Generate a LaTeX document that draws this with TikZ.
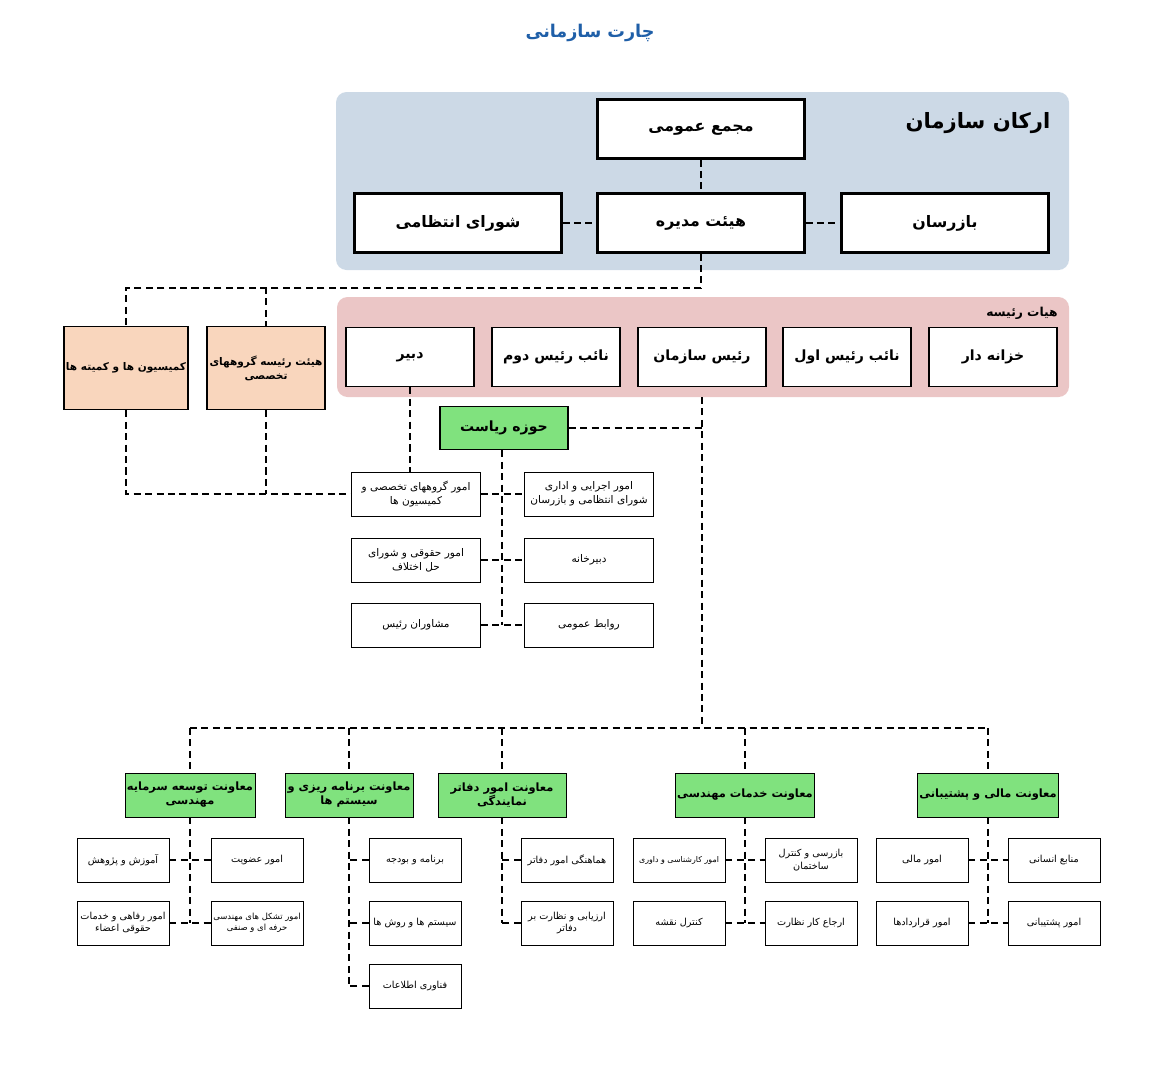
\documentclass[tikz,border=0pt]{standalone}
\usepackage{fontspec}
\setmainfont{DejaVu Sans}
\newfontfamily\farsi[Script=Arabic]{DejaVu Sans}
\TeXXeTstate=1
\newcommand{\fa}[1]{{\farsi\beginR #1\endR}}
\definecolor{bluebg}{HTML}{CCD9E6}
\definecolor{pinkbg}{HTML}{EBC6C6}
\definecolor{orangebx}{HTML}{F9D6BD}
\definecolor{greenbx}{HTML}{80E27E}
\definecolor{titleblue}{HTML}{1F5FA8}
\tikzset{
  box/.style={draw, fill=white, align=center, inner sep=1pt, font=\farsi},
  bigbox/.style={box, line width=1.2pt, minimum width=4.14cm, minimum height=1.18cm, font=\fontsize{9}{11}\selectfont\bfseries},
  headbox/.style={box, line width=1pt, minimum width=2.56cm, minimum height=1.18cm, font=\fontsize{8}{10}\selectfont\bfseries},
  sidebox/.style={headbox, fill=orangebx, minimum width=2.36cm, minimum height=1.66cm, font=\fontsize{6}{8}\selectfont\bfseries},
  midbox/.style={box, minimum width=2.58cm, minimum height=0.88cm, font=\fontsize{6}{8}\selectfont},
  vicebox/.style={box, fill=greenbx, minimum width=2.56cm, minimum height=0.88cm, font=\fontsize{6.5}{8}\selectfont\bfseries},
  subbox/.style={box, minimum width=1.84cm, minimum height=0.88cm, font=\fontsize{5.5}{7}\selectfont},
  link/.style={dashed, line width=0.8pt, dash pattern=on 4pt off 2.5pt}
}
\begin{document}
\begin{tikzpicture}[x=0.02cm,y=-0.02cm]
		\useasboundingbox (0,0) rectangle (1158,1083);
		%%title
		\node[text=titleblue, font=\fontsize{10}{12}\selectfont\bfseries] (title) at (590,33) {\fa{چارت سازمانی}};
		%%backgrounds
		\fill[bluebg, rounded corners=6pt] (336,92) rectangle (1069,270);
		\fill[pinkbg, rounded corners=6pt] (337,297) rectangle (1069,397);
		\node[font=\fontsize{12}{14}\selectfont\bfseries] (arkan) at (978,123) {\fa{ارکان سازمان}};
		\node[font=\fontsize{7}{9}\selectfont\bfseries] (hayat) at (1022,313) {\fa{هیات رئیسه}};
		%%arkan
		\node[bigbox] (majma) at (701,129) {\fa{مجمع عمومی}};
		\node[bigbox] (shora) at (458,223) {\fa{شورای انتظامی}};
		\node[bigbox] (modir) at (701,223) {\fa{هیئت مدیره}};
		\node[bigbox] (bazres) at (945,223) {\fa{بازرسان}};
		\draw[link] (majma) -- (modir);
		\draw[link] (shora) -- (modir);
		\draw[link] (modir) -- (bazres);
		%%hayat raeese
		\node[headbox] (dabir) at (410,357) {\fa{دبیر}};
		\node[headbox] (naeb2) at (556,357) {\fa{نائب رئیس دوم}};
		\node[headbox] (rais) at (702,357) {\fa{رئیس سازمان}};
		\node[headbox] (naeb1) at (847,357) {\fa{نائب رئیس اول}};
		\node[headbox] (khazane) at (993,357) {\fa{خزانه دار}};
		%%side boxes
		\node[sidebox] (komis) at (126,368) {\fa{کمیسیون ها و کمیته ها}};
		\node[sidebox] (goroh) at (266,368) {\fa{هیئت رئیسه گروههای}\\\fa{تخصصی}};
		\coordinate (j1) at (701,288);
		\draw[link] (modir) -- (j1);
		\draw[link] (j1) -| (komis);
		\draw[link] (j1) -| (goroh);
		%%hoze riasat
		\node[headbox, fill=greenbx, minimum height=0.86cm] (hoze) at (504,428) {\fa{حوزه ریاست}};
		\node[midbox] (la1) at (416,494) {\fa{امور گروههای تخصصی و}\\\fa{کمیسیون ها}};
		\node[midbox] (la2) at (416,560) {\fa{امور حقوقی و شورای}\\\fa{حل اختلاف}};
		\node[midbox] (la3) at (416,625) {\fa{مشاوران رئیس}};
		\node[midbox] (ra1) at (589,494) {\fa{امور اجرایی و اداری}\\\fa{شورای انتظامی و بازرسان}};
		\node[midbox] (ra2) at (589,560) {\fa{دبیرخانه}};
		\node[midbox] (ra3) at (589,625) {\fa{روابط عمومی}};
		\coordinate (hb) at (502,625);
		\draw[link] (hoze.south -| hb) -- (hb);
		\draw[link] (la1) -- (ra1);
		\draw[link] (la2) -- (ra2);
		\draw[link] (la3) -- (ra3);
		\draw[link] (dabir) -- (dabir |- la1.north);
		\draw[link] (komis) |- (la1.west);
		\draw[link] (goroh) -- (goroh |- la1.west);
		%%trunk
		\coordinate (p) at (702,397);
		\coordinate (t) at (702,728);
		\draw[link] (p) -- (t);
		\draw[link] (hoze) -- (hoze -| p);
		%%vice
		\node[vicebox] (m1) at (190,795) {\fa{معاونت توسعه سرمایه}\\\fa{مهندسی}};
		\node[vicebox] (m2) at (349,795) {\fa{معاونت برنامه ریزی و}\\\fa{سیستم ها}};
		\node[vicebox] (m3) at (502,795) {\fa{معاونت امور دفاتر}\\\fa{نمایندگی}};
		\node[vicebox] (m4) at (745,795) {\fa{معاونت خدمات مهندسی}};
		\node[vicebox] (m5) at (988,795) {\fa{معاونت مالی و پشتیبانی}};
		\draw[link] (m1.north |- t) -- (m5.north |- t);
		\foreach \m in {m1,m2,m3,m4,m5}
			\draw[link] (\m.north |- t) -- (\m.north);
		%%sub units
		\node[subbox] (a1) at (123,860) {\fa{آموزش و پژوهش}};
		\node[subbox] (a2) at (123,923) {\fa{امور رفاهی و خدمات}\\\fa{حقوقی اعضاء}};
		\node[subbox] (a3) at (257,860) {\fa{امور عضویت}};
		\node[subbox, font=\fontsize{4.8}{6}\selectfont] (a4) at (257,923) {\fa{امور تشکل های مهندسی}\\\fa{حرفه ای و صنفی}};
		\node[subbox] (b1) at (415,860) {\fa{برنامه و بودجه}};
		\node[subbox] (b2) at (415,923) {\fa{سیستم ها و روش ها}};
		\node[subbox] (b3) at (415,986) {\fa{فناوری اطلاعات}};
		\node[subbox] (c1) at (567,860) {\fa{هماهنگی امور دفاتر}};
		\node[subbox] (c2) at (567,923) {\fa{ارزیابی و نظارت بر}\\\fa{دفاتر}};
		\node[subbox, font=\fontsize{4.5}{6}\selectfont] (d1) at (679,860) {\fa{امور کارشناسی و داوری}};
		\node[subbox] (d2) at (679,923) {\fa{کنترل نقشه}};
		\node[subbox] (d3) at (811,860) {\fa{بازرسی و کنترل}\\\fa{ساختمان}};
		\node[subbox] (d4) at (811,923) {\fa{ارجاع کار نظارت}};
		\node[subbox] (e1) at (922,860) {\fa{امور مالی}};
		\node[subbox] (e2) at (922,923) {\fa{امور قراردادها}};
		\node[subbox] (e3) at (1054,860) {\fa{منابع انسانی}};
		\node[subbox] (e4) at (1054,923) {\fa{امور پشتیبانی}};
		%%sub links
		\draw[link] (m1) -- (m1 |- a2);
		\draw[link] (a1) -- (a3);
		\draw[link] (a2) -- (a4);
		\draw[link] (m2) -- (m2 |- b3);
		\foreach \s in {b1,b2,b3}
			\draw[link] (\s.west) -- (\s.west -| m2);
		\draw[link] (m3) -- (m3 |- c2);
		\foreach \s in {c1,c2}
			\draw[link] (\s.west) -- (\s.west -| m3);
		\draw[link] (m4) -- (m4 |- d2);
		\draw[link] (d1) -- (d3);
		\draw[link] (d2) -- (d4);
		\draw[link] (m5) -- (m5 |- e2);
		\draw[link] (e1) -- (e3);
		\draw[link] (e2) -- (e4);
	\end{tikzpicture}
\end{document}
